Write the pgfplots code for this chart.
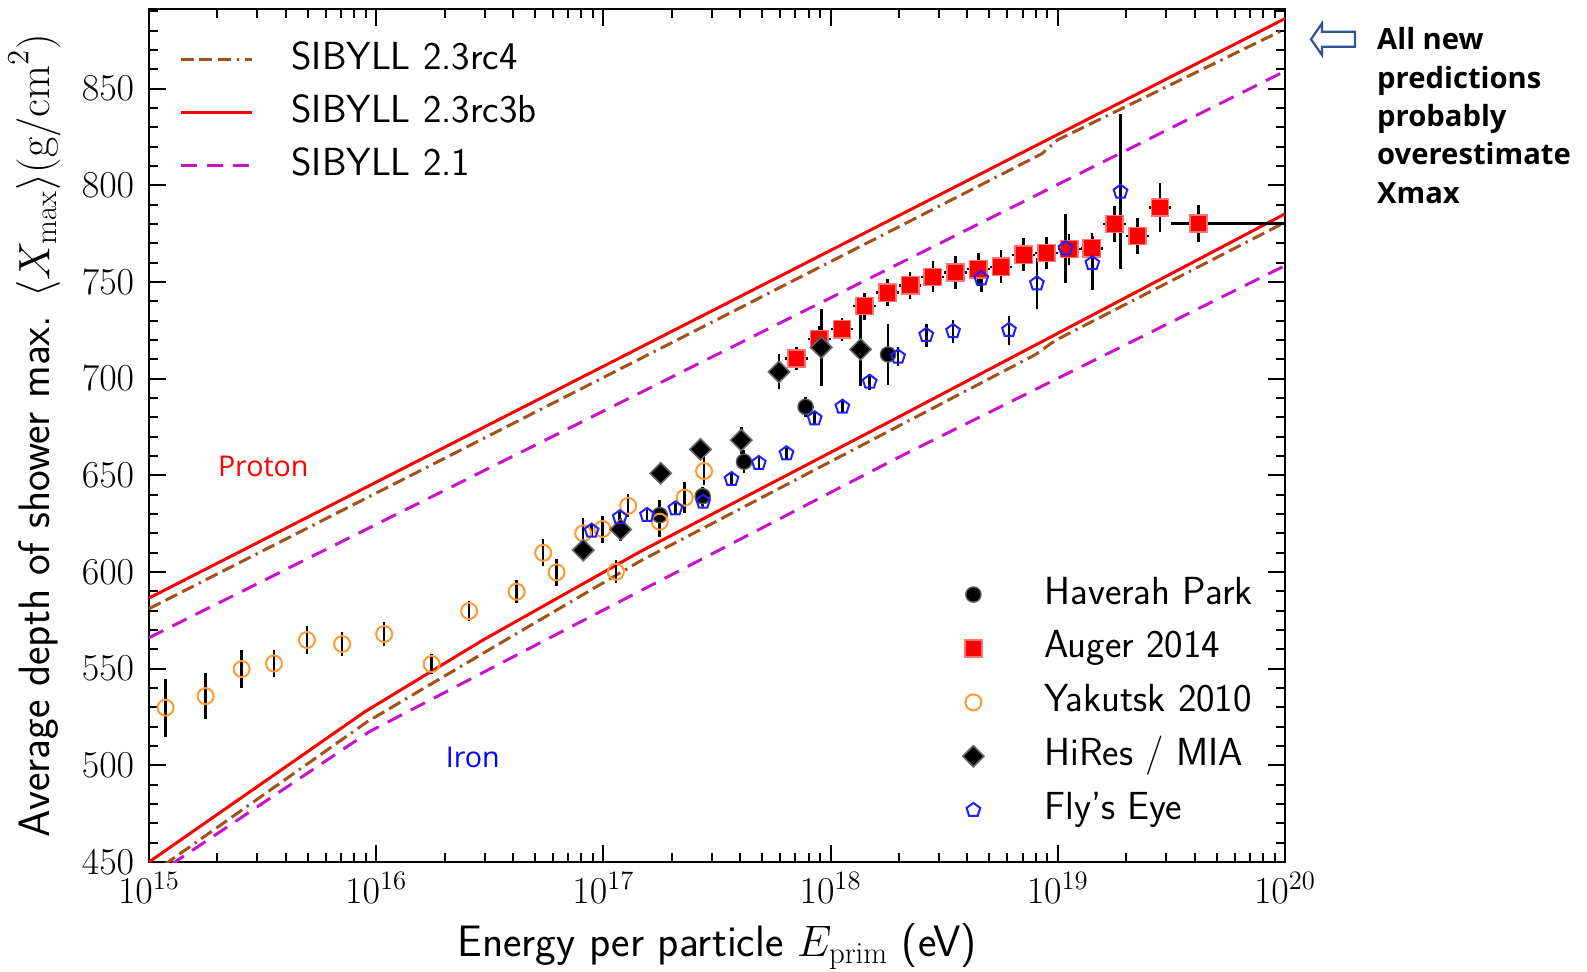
\RequirePackage{fix-cm}
\documentclass[border=0pt]{standalone}
\usepackage{fontspec}
\newfontfamily\notefont{Open Sans}
\usepackage{pgfplots}
\usepackage{pgfplotstable}
\pgfplotsset{compat=1.18}
\usetikzlibrary{plotmarks}

\definecolor{sibnew}{RGB}{165,80,25}
\definecolor{sibold}{RGB}{200,20,200}
\definecolor{yakorange}{RGB}{255,153,51}
\definecolor{flyblue}{RGB}{30,30,255}
\definecolor{arrowblue}{RGB}{47,85,151}

% x values are log10(E/eV)
\pgfplotstableread{
x y ey
15.073 529.8 15
15.249 535.8 12
15.408 549.8 10
15.550 552.7 7
15.695 564.8 7
15.850 562.7 6
16.035 567.9 6
16.244 552.4 5
16.409 579.8 5
16.618 589.8 6
16.735 609.9 7
16.794 599.8 7
16.911 620.0 8
16.996 622.2 7
17.055 600.1 6
17.109 634.2 6
17.248 626.0 8
17.358 638.4 8
17.443 652.2 7
}\yakutsk

\pgfplotstableread{
x y ey
17.248 629.4 8
17.437 639.2 5
17.619 657.0 6
17.890 685.4 5
18.253 712.5 16
}\haverah

\pgfplotstableread{
x y ey
16.911 611.3 5
17.076 622.0 6
17.252 651.0 4
17.427 663.4 4
17.607 668.2 7
17.773 703.5 9
17.959 716.1 20
18.132 715.1 19
}\hires

\pgfplotstableread{
x xm xp y ey
17.85 0.05 0.05 710.4 6
17.95 0.05 0.05 720.4 7
18.05 0.05 0.05 725.6 6
18.15 0.05 0.05 737.5 7
18.25 0.05 0.05 744.4 7
18.35 0.05 0.05 748.3 7
18.45 0.05 0.05 752.6 8
18.55 0.05 0.05 754.9 8.4
18.65 0.05 0.05 756.6 8.6
18.75 0.05 0.05 757.8 8.5
18.85 0.05 0.05 764.0 8.5
18.95 0.05 0.05 765.0 8.4
19.05 0.05 0.05 767.0 8
19.15 0.05 0.05 767.4 8
19.25 0.05 0.05 780.0 9.5
19.35 0.05 0.05 773.8 9.5
19.45 0.05 0.05 788.5 12.5
19.62 0.12 0.38 780.2 9.7
}\auger

\pgfplotstableread{
x y ey
16.948 621.3 3
17.072 628.2 3
17.192 629.4 3
17.317 632.8 3
17.439 636.3 3
17.564 648.0 3
17.684 656.3 3
17.806 661.3 3
17.930 679.4 3.5
18.052 685.4 3
18.172 698.3 4
18.297 711.3 5
18.421 722.5 6
18.539 724.5 6
18.663 751.8 7
18.785 725.1 7.5
18.908 749.2 13.2
19.034 767.3 18
19.152 759.6 14
19.276 796.6 40
}\flyseye

\pgfplotsset{
  frame geometry/.style={
    scale only axis, width=568pt, height=426.35pt,
    xmin=15, xmax=20, ymin=450, ymax=891,
    at={(0pt,0pt)}, anchor=south west,
  },
  data bars/.style={
    error bars/.cd, y dir=both, y explicit, error mark=none,
    error bar style={line width=1.3pt, black},
  },
}

\begin{document}
\begin{tikzpicture}
\useasboundingbox (-74.5pt,-54.5pt) rectangle (719pt,431pt);

% model predictions, frame and ticks
\begin{axis}[
  frame geometry,
  axis line style={line width=1.2pt},
  tick style={line width=1pt, black},
  tick align=inside,
  major tick length=8.5pt, minor tick length=4.3pt,
  xtick={15,16,17,18,19,20},
  xticklabels={$10^{15}$,$10^{16}$,$10^{17}$,$10^{18}$,$10^{19}$,$10^{20}$},
  minor xtick={15.30103,15.47712,15.60206,15.69897,15.77815,15.84510,15.90309,15.95424,
               16.30103,16.47712,16.60206,16.69897,16.77815,16.84510,16.90309,16.95424,
               17.30103,17.47712,17.60206,17.69897,17.77815,17.84510,17.90309,17.95424,
               18.30103,18.47712,18.60206,18.69897,18.77815,18.84510,18.90309,18.95424,
               19.30103,19.47712,19.60206,19.69897,19.77815,19.84510,19.90309,19.95424},
  ytick={450,500,...,850},
  minor ytick={460,470,...,890},
  tick label style={font=\fontsize{19}{23}\selectfont},
  yticklabel style={anchor=east, inner sep=0pt, xshift=-7.2pt},
  xticklabel style={anchor=north, inner sep=0pt, yshift=-5pt},
  xlabel={Energy per particle $E_{\mathrm{prim}}$ (eV)},
  ylabel={Average depth of shower max. $\langle X_{\mathrm{max}}\rangle(\mathrm{g/cm}^2)$},
  label style={font=\fontsize{22}{26}\selectfont\sffamily},
  xlabel style={at={(axis description cs:0.5,-0.1108)}, anchor=base, inner sep=0pt},
  ylabel style={at={(axis description cs:-0.1008,0.5)}, anchor=center, inner sep=0pt},
  legend cell align=left,
  legend image code/.code={\draw[#1] (0pt,0pt) -- (35.5pt,0pt);},
  legend style={draw=none, fill=none, at={(0.0264,0.963)}, anchor=north west,
    font=\fontsize{19.6}{23}\selectfont\sffamily, inner sep=0pt,
    column sep=19pt, row sep=8pt,
    nodes={inner sep=0pt, text height=14pt, text depth=4.5pt}},
]
% SIBYLL 2.3rc4
\addplot[sibnew, line width=1.5pt,
  dash pattern=on 6.5pt off 2.8pt on 6.5pt off 2.8pt on 6.5pt off 2.8pt on 1.2pt off 2.8pt]
  coordinates {(15,581) (17.45,727.5) (18.93,816.3) (19.0,823.5) (20,880.8)};
\addlegendentry{SIBYLL 2.3rc4}
% SIBYLL 2.3rc3b
\addplot[red, line width=1.5pt] coordinates {(15,586.5) (20,886.2)};
\addlegendentry{SIBYLL 2.3rc3b}
% SIBYLL 2.1
\addplot[sibold, line width=1.5pt, dash pattern=on 8pt off 5pt]
  coordinates {(15,566) (20,859)};
\addlegendentry{SIBYLL 2.1}
% iron primaries
\addplot[sibnew, line width=1.5pt, forget plot,
  dash pattern=on 6.5pt off 2.8pt on 6.5pt off 2.8pt on 6.5pt off 2.8pt on 1.2pt off 2.8pt]
  coordinates {(15,443) (15.96,522.5) (16.5,560) (17.16,605.5) (18.30,675.5) (18.90,712.3) (18.99,719.8) (20,780.8)};
\addplot[red, line width=1.5pt, forget plot]
  coordinates {(15,450) (15.95,527.7) (16.47,564.8) (17.16,610.4) (18.30,680.2) (20,785.2)};
\addplot[sibold, line width=1.5pt, dash pattern=on 8pt off 5pt, forget plot]
  coordinates {(15,441) (15.97,517.4) (16.745,564.8) (18.304,659.6) (20,758.4)};
\end{axis}

% measurements
\begin{axis}[
  frame geometry, hide axis,
  legend cell align=left,
  legend image code/.code={\path[draw=none] (-6pt,0pt) -- (6pt,0pt);
    \draw[#1, draw=none] plot coordinates {(0pt,0pt)};},
  legend style={draw=none, fill=none, at={(0.7148,0.3358)}, anchor=north west,
    font=\fontsize{19.6}{23}\selectfont\sffamily, inner sep=0pt,
    column sep=29.5pt, row sep=8.45pt,
    nodes={inner sep=0pt, text height=14pt, text depth=4.5pt}},
]
\addplot[only marks, mark=*, mark size=3.8pt,
  mark options={fill=black, draw=black!65, line width=0.7pt}, data bars]
  table[x=x, y=y, y error=ey] {\haverah};
\addlegendentry{Haverah Park}
\addplot[only marks, mark=square*, mark size=4.3pt,
  mark options={fill=red, draw=red!55, line width=0.8pt},
  error bars/.cd, x dir=both, x explicit, y dir=both, y explicit, error mark=none,
  error bar style={line width=1.3pt, black}]
  table[x=x, y=y, x error plus=xp, x error minus=xm, y error=ey] {\auger};
\addlegendentry{Auger 2014}
\addplot[only marks, mark=o, mark size=4pt,
  mark options={draw=yakorange, line width=1pt}, data bars]
  table[x=x, y=y, y error=ey] {\yakutsk};
\addlegendentry{Yakutsk 2010}
\addplot[only marks, mark=square*, mark size=3.75pt,
  mark options={rotate=45, fill=black, draw=black!60, line width=0.8pt}, data bars]
  table[x=x, y=y, y error=ey] {\hires};
\addlegendentry{HiRes / MIA}
\addplot[only marks, mark=pentagon, mark size=3.6pt,
  mark options={draw=flyblue, line width=1pt}, data bars]
  table[x=x, y=y, y error=ey] {\flyseye};
\addlegendentry{Fly's Eye}
\end{axis}

% primary labels
\node[anchor=base west, inner sep=0pt, text=red, font=\notefont\fontsize{14.3}{17}\selectfont] at (34.3pt,192.7pt) {Proton};
\node[anchor=base west, inner sep=0pt, text=blue, font=\notefont\fontsize{14.3}{17}\selectfont] at (148.2pt,47.4pt) {Iron};

% note beside the frame
\draw[arrowblue, line width=1.1pt, fill=white, line join=miter]
  (581pt,411.35pt) -- (586.5pt,419.35pt) -- (586.5pt,415.15pt) -- (603pt,415.15pt)
  -- (603pt,407.65pt) -- (586.5pt,407.65pt) -- (586.5pt,403.5pt) -- cycle;
\begin{scope}[every node/.style={anchor=base west, inner sep=0pt,
    font=\notefont\bfseries\fontsize{14.6}{17}\selectfont}]
\node at (613.9pt,406pt) {All new};
\node at (613.9pt,386.85pt) {predictions};
\node at (613.9pt,367.7pt) {probably};
\node at (613.9pt,348.55pt) {overestimate};
\node at (613.9pt,329.4pt) {Xmax};
\end{scope}
\end{tikzpicture}
\end{document}
